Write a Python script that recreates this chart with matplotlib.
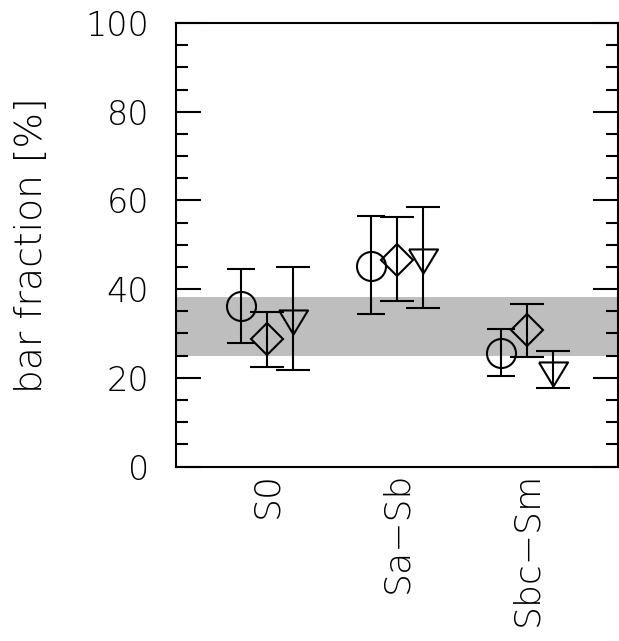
import matplotlib
matplotlib.use('Agg')
import matplotlib.pyplot as plt
import numpy as np

categories = ['S0', 'Sa\u2212Sb', 'Sbc\u2212Sm']
circ_val = [36.2, 45.3, 25.6]
circ_hi = [44.6, 56.4, 31.0]
circ_lo = [27.8, 34.3, 20.3]
diam_val = [28.7, 46.6, 30.7]
diam_hi = [34.9, 56.2, 36.6]
diam_lo = [22.4, 37.3, 24.6]
tri_val = [32.5, 46.3, 20.8]
tri_hi = [44.9, 58.6, 26.1]
tri_lo = [21.8, 35.7, 17.8]
band = [25.0, 38.2]

plt.rcParams['font.family'] = ['DejaVu Sans']

fig = plt.figure(figsize=(6.19, 6.41), dpi=100)
ax = fig.add_axes([0.2843, 0.2722, 0.7137, 0.6919])

x = np.arange(1, len(categories) + 1)
tri_marker = [(-1, 0.83), (1, 0.83), (0, -0.83), (-1, 0.83)]

# grey band behind the points
ax.axhspan(band[0], band[1], color='#bebebe', lw=0, zorder=0)

lw = 1.5
series = [
    (x - 0.2, circ_val, circ_lo, circ_hi, 'o', 20.9, 10.4),
    (x, diam_val, diam_lo, diam_hi, 'D', 16.6, 11.9),
    (x + 0.2, tri_val, tri_lo, tri_hi, tri_marker, 20.9, 11.9),
]
for xs, v, lo, hi, m, ms, cs in series:
    v = np.array(v)
    err = [v - np.array(lo), np.array(hi) - v]
    ax.errorbar(xs, v, yerr=err, fmt='none', ecolor='black', elinewidth=lw,
                capsize=cs, capthick=lw, zorder=2)
    ax.plot(xs, v, ls='none', marker=m, ms=ms, mfc='none', mec='black',
            mew=lw, zorder=3)

ax.set_xlim(0.3, 3.7)
ax.set_ylim(0, 100)
ax.set_xticks(x)
ax.set_xticklabels(categories, rotation=90, fontsize=26, va='top',
                   fontweight='light')
ax.tick_params(axis='x', length=0, pad=4)
ax.set_yticks(np.arange(0, 101, 20))
ax.set_yticks(np.arange(0, 101, 5), minor=True)
ax.tick_params(axis='y', which='both', direction='in', left=True, right=True,
               width=lw, labelsize=24, pad=19.5)
ax.tick_params(axis='y', which='major', length=18)
ax.tick_params(axis='y', which='minor', length=8.6)
for lab in ax.get_yticklabels():
    lab.set_fontweight('light')
for s in ax.spines.values():
    s.set_linewidth(lw)
ax.set_ylabel('bar fraction [%]', fontsize=27, labelpad=26, fontweight='light')

fig.savefig('out.png', dpi=100)
